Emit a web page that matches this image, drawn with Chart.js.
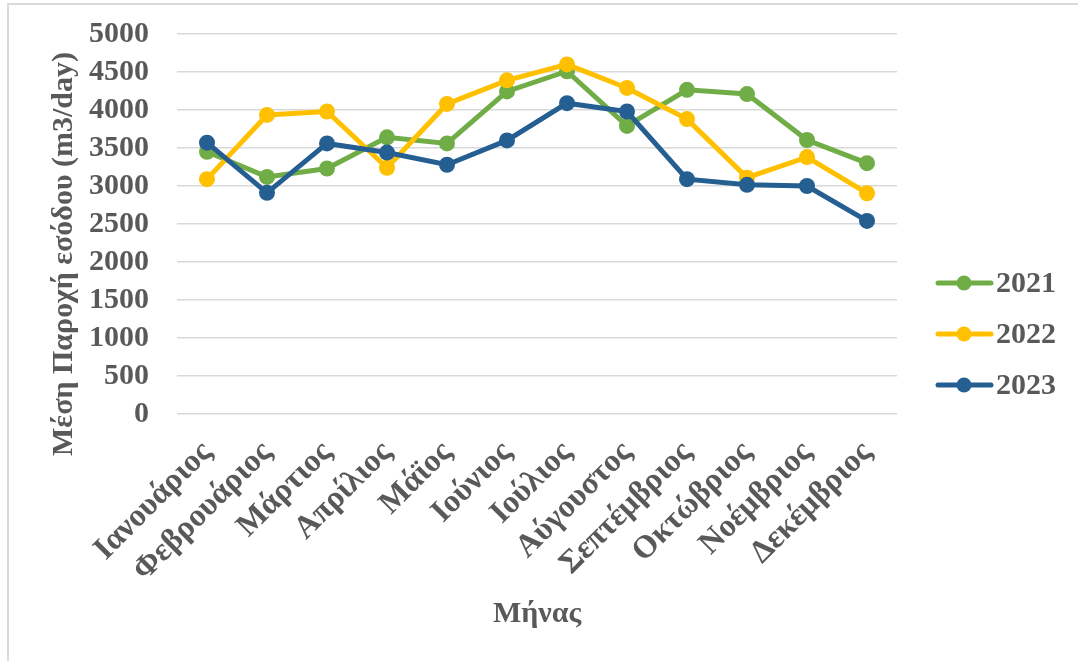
<!DOCTYPE html>
<html>
<head>
<meta charset="utf-8">
<script src="https://cdn.jsdelivr.net/npm/chart.js@4/dist/chart.umd.min.js"></script>
<style>
  html, body { margin: 0; padding: 0; background: #fff; }
  #wrap { width: 1078px; height: 661px; position: relative; }
</style>
</head>
<body>
<div id="wrap"><canvas id="flowChart" width="1078" height="661"></canvas></div>
<script>
// Μήνες (άξονας x)
const months = ['Ιανουάριος', 'Φεβρουάριος', 'Μάρτιος', 'Απρίλιος', 'Μάϊος', 'Ιούνιος',
  'Ιούλιος', 'Αύγουστος', 'Σεπτέμβριος', 'Οκτώβριος', 'Νοέμβριος', 'Δεκέμβριος'];

// Μέση παροχή εσόδου ανά έτος (m3/day)
const flow2021 = [3450, 3120, 3230, 3640, 3560, 4245, 4510, 3790, 4265, 4210, 3605, 3300];
const flow2022 = [3090, 3935, 3980, 3240, 4080, 4390, 4600, 4290, 3880, 3110, 3380, 2905];
const flow2023 = [3570, 2910, 3560, 3440, 3280, 3600, 4090, 3980, 3090, 3015, 3000, 2540];

const years = ['2021', '2022', '2023'];
const colors = ['#70AD47', '#FFC000', '#255E91'];

// Υποδιαιρέσεις άξονα y
const yTicks = [0, 500, 1000, 1500, 2000, 2500, 3000, 3500, 4000, 4500, 5000];

const textColor = '#595959';
const fontFamily = '"Liberation Serif", "Times New Roman", serif';

// Πλαίσιο, τίτλος άξονα y και υπόμνημα
const extras = {
  id: 'extras',
  beforeDraw(chart) {
    const c = chart.ctx;
    c.save();
    c.strokeStyle = '#D9D9D9';
    c.lineWidth = 2;
    c.beginPath();
    c.moveTo(8, 700);
    c.lineTo(8, 4);
    c.lineTo(1100, 4);
    c.stroke();
    c.restore();
  },
  afterDraw(chart) {
    const c = chart.ctx;
    c.save();
    // τίτλος άξονα y
    c.translate(72, 254);
    c.rotate(-Math.PI / 2);
    c.font = 'bold 30px ' + fontFamily;
    c.fillStyle = textColor;
    c.textAlign = 'center';
    c.textBaseline = 'alphabetic';
    c.fillText('Μέση Παροχή εσόδου (m3/day)', 0, 0);
    c.restore();

    // υπόμνημα
    c.save();
    chart.data.datasets.forEach((ds, i) => {
      const y = 283 + i * 51;
      c.strokeStyle = ds.borderColor;
      c.lineWidth = 5;
      c.lineCap = 'round';
      c.beginPath();
      c.moveTo(938, y);
      c.lineTo(991, y);
      c.stroke();
      c.fillStyle = ds.borderColor;
      c.beginPath();
      c.arc(964, y, 7.5, 0, Math.PI * 2);
      c.fill();
      c.font = 'bold 30px ' + fontFamily;
      c.fillStyle = textColor;
      c.textAlign = 'left';
      c.textBaseline = 'middle';
      c.fillText(ds.label, 996, y + 1);
    });
    c.restore();
  }
};

const ctx = document.getElementById('flowChart').getContext('2d');

const series = [flow2021, flow2022, flow2023];

new Chart(ctx, {
  type: 'line',
  data: {
    labels: months,
    datasets: series.map((values, i) => ({
      label: years[i],
      data: values,
      borderColor: colors[i],
      backgroundColor: colors[i],
      borderWidth: 5,
      pointRadius: 8,
      pointHoverRadius: 8,
      pointBorderWidth: 0,
      tension: 0,
      order: 3 - i
    }))
  },
  options: {
    responsive: false,
    animation: false,
    devicePixelRatio: 1,
    layout: { padding: { top: 34, right: 181, left: 0, bottom: 0 } },
    plugins: {
      legend: { display: false },
      tooltip: { enabled: false }
    },
    scales: {
      x: {
        offset: true,
        grid: { display: false },
        border: { display: false },
        ticks: {
          color: textColor,
          font: { family: fontFamily, size: 32, weight: 'bold' },
          minRotation: 45,
          maxRotation: 45,
          autoSkip: false,
          padding: 12
        },
        title: {
          display: true,
          text: 'Μήνας',
          color: textColor,
          font: { family: fontFamily, size: 30, weight: 'bold' },
          padding: { top: 0, bottom: 29 }
        },
        afterFit(scale) { scale.height = 247; }
      },
      y: {
        min: 0,
        max: 5000,
        grid: { color: '#D9D9D9', lineWidth: 1.5, drawTicks: false },
        border: { display: false },
        afterBuildTicks(scale) {
          scale.ticks = yTicks.map(v => ({ value: v }));
        },
        ticks: {
          autoSkip: false,
          color: textColor,
          font: { family: fontFamily, size: 30, weight: 'bold' },
          padding: 28,
          callback: (value) => String(value)
        },
        afterFit(scale) {
          scale.width = 177;
          scale.paddingTop = 0;
          scale.paddingBottom = 0;
        }
      }
    }
  },
  plugins: [extras]
});
</script>
</body>
</html>
